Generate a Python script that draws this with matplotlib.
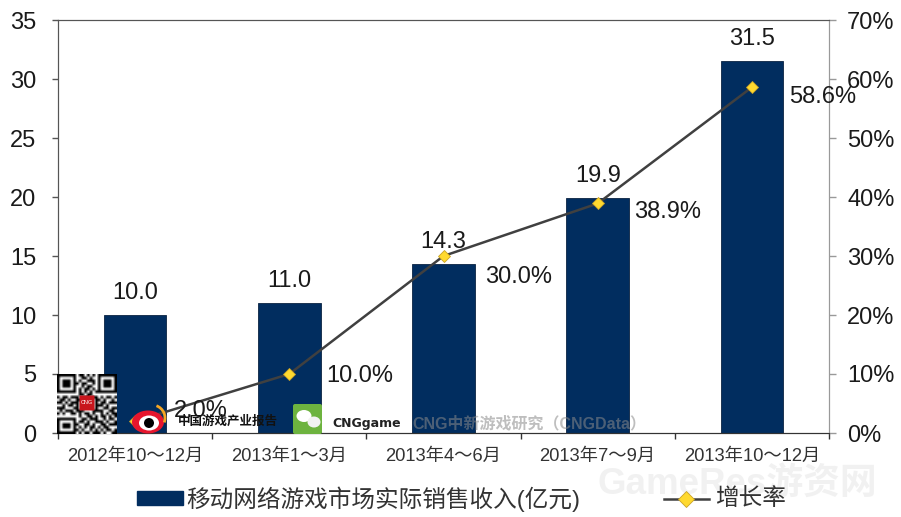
from __future__ import annotations

import matplotlib

matplotlib.use("Agg")

import matplotlib.pyplot as plt
import numpy as np
from matplotlib.patches import Arc, Circle, Ellipse, FancyBboxPatch, Rectangle

plt.rcParams["font.family"] = ["Liberation Sans", "Noto Sans CJK SC", "DejaVu Sans"]

categories = [
    "2012年10～12月",
    "2013年1～3月",
    "2013年4～6月",
    "2013年7～9月",
    "2013年10～12月",
]
revenue = [10.0, 11.0, 14.3, 19.9, 31.5]
growth = [2.0, 10.0, 30.0, 38.9, 58.6]
revenue_labels = ["10.0", "11.0", "14.3", "19.9", "31.5"]
growth_labels = ["2.0%", "10.0%", "30.0%", "38.9%", "58.6%"]
left_ticks = [0, 5, 10, 15, 20, 25, 30, 35]
right_ticks = [0, 10, 20, 30, 40, 50, 60, 70]

# Rough QR pattern, only there to stand in for the logo block.
qr_rows = [
    "1111111011010101111111",
    "1000001001101001000001",
    "1011101010011101011101",
    "1011101101100101011101",
    "1011101001011001011101",
    "1000001010110101000001",
    "1111111010101011111111",
    "0000000011011000000000",
    "1011011100110110101101",
    "0110100111000011010010",
    "1101011100000010110111",
    "0010110100000011101000",
    "1110001100000010011011",
    "0101110111000111100110",
    "1010011010110100101011",
    "0000000010011010110101",
    "1111111001101110010110",
    "1000001011010011101001",
    "1011101100110100110111",
    "1011101010101101011000",
    "1000001101001010101101",
    "1111111010110111010011",
]

WIDTH, HEIGHT = 901, 517
NAVY = "#012D5F"
LINE = "#404040"
GOLD = "#FFD92F"
TEXT = "#1A1A1A"


def px(x: float, y: float) -> tuple[float, float]:
    """Reference pixel position to figure fraction."""
    return x / WIDTH, 1 - y / HEIGHT


def main() -> None:
    fig = plt.figure(figsize=(WIDTH / 100, HEIGHT / 100), dpi=100)
    ax = fig.add_axes([58 / WIDTH, 1 - 433 / HEIGHT, 771 / WIDTH, 413 / HEIGHT])
    ax2 = ax.twinx()

    x = np.arange(len(categories))

    ax.bar(x, revenue, width=0.405, color=NAVY, edgecolor="#0A2342", linewidth=0.6)
    ax.set_xlim(-0.5, 4.5)
    ax.set_ylim(0, 35)
    ax.set_yticks(left_ticks)
    ax.tick_params(axis="y", labelsize=17, length=4.5, width=1, color="#555555",
                   labelcolor=TEXT, pad=11)
    ax.set_xticks(np.arange(-0.5, 5.0, 1.0))
    ax.set_xticklabels([])
    ax.tick_params(axis="x", length=4.5, width=1, color="#333333")
    for pos, label in zip(x, categories):
        ax.annotate(label, (pos, 0), xytext=(0, -17), textcoords="offset points",
                    ha="center", va="center", fontsize=13.2, color="#333333")

    ax2.plot(x, growth, color=LINE, linewidth=1.8, marker="D", markersize=6.5,
             markerfacecolor=GOLD, markeredgecolor="#C9A227", markeredgewidth=0.6)
    ax2.set_ylim(0, 70)
    ax2.set_yticks(right_ticks)
    ax2.set_yticklabels([f"{v}%" for v in right_ticks])
    ax2.tick_params(axis="y", labelsize=17, length=5, width=1, color="#999999",
                    labelcolor=TEXT, pad=8)

    for axis in (ax, ax2):
        axis.spines["left"].set_color("#555555")
        axis.spines["bottom"].set_color("#333333")
        axis.spines["top"].set_color("#555555")
        axis.spines["right"].set_color("#999999")

    for pos, value, label in zip(x, revenue, revenue_labels):
        ax.annotate(label, (pos, value), xytext=(0, 16), textcoords="offset points",
                    ha="center", va="center", fontsize=17, color=TEXT)

    # Growth labels sit to the right of each marker.
    offsets = [(47, 7), (51, -1.5), (54, -15), (50, -6), (51, -7)]
    for pos, value, label, offset in zip(x, growth, growth_labels, offsets):
        ax2.annotate(label, (pos, value), xytext=offset, textcoords="offset points",
                     ha="center", va="center", fontsize=17, color=TEXT)

    # Legend drawn by hand to match the wide spacing.
    fig.add_artist(Rectangle(px(137, 505), 46 / WIDTH, 14 / HEIGHT, color=NAVY,
                             transform=fig.transFigure))
    fig.text(*px(186, 499), "移动网络游戏市场实际销售收入(亿元)", fontsize=17,
             color="#333333", ha="left", va="center")
    line_x, line_y = px(664, 499)
    end_x, _ = px(709, 499)
    fig.add_artist(plt.Line2D([line_x, end_x], [line_y, line_y], color=LINE, linewidth=1.8,
                              transform=fig.transFigure))
    fig.add_artist(plt.Line2D([(line_x + end_x) / 2], [line_y], marker="D", markersize=8,
                              markerfacecolor=GOLD, markeredgecolor="#C9A227",
                              markeredgewidth=0.6, transform=fig.transFigure))
    fig.text(*px(715, 499), "增长率", fontsize=17, color="#333333", ha="left", va="center")

    # Overlay layer in pixel coordinates for the publisher's watermarks.
    overlay = fig.add_axes([0, 0, 1, 1], facecolor="none")
    overlay.set_xlim(0, WIDTH)
    overlay.set_ylim(HEIGHT, 0)
    overlay.axis("off")

    qr = np.array([[int(c) for c in row] for row in qr_rows])
    overlay.imshow(1 - qr, cmap="gray", extent=(57, 117, 434, 374), interpolation="bilinear",
                   vmin=0, vmax=1, zorder=3, aspect="auto")
    overlay.set_xlim(0, WIDTH)
    overlay.set_ylim(HEIGHT, 0)
    overlay.add_patch(FancyBboxPatch((80, 396), 14, 14, boxstyle="round,pad=0.5",
                                     fc="#C8161D", ec="none", zorder=4))
    overlay.text(87, 403, "CNG", fontsize=4, color="white", ha="center", va="center", zorder=5)

    # Weibo mark
    overlay.add_patch(Ellipse((148, 422), 32, 23, fc="#E6162D", ec="none", zorder=4))
    overlay.add_patch(Ellipse((149, 423), 20, 15, fc="white", ec="none", zorder=5))
    overlay.add_patch(Circle((149, 423), 5, fc="black", ec="none", zorder=6))
    overlay.add_patch(Arc((152, 418), 26, 26, theta1=-70, theta2=20,
                          ec="#F5A623", lw=2, zorder=4))

    overlay.text(228, 422, "中国游戏产业报告", fontsize=9, fontweight="bold", color="#111111",
                 ha="center", va="center", zorder=5)

    # WeChat mark
    overlay.add_patch(FancyBboxPatch((295, 406), 25, 26, boxstyle="round,pad=2",
                                     fc="#6DB33F", ec="none", zorder=4))
    overlay.add_patch(Ellipse((304, 416), 15, 12, fc="white", ec="none", zorder=5))
    overlay.add_patch(Ellipse((314, 422), 13, 11, fc="#F2F2F2", ec="none", zorder=5))

    overlay.text(367, 423, "CNGgame", fontsize=9, fontweight="bold", color="#222222",
                 ha="center", va="center", zorder=5, family=["DejaVu Sans"])
    overlay.text(529, 423, "CNG中新游戏研究（CNGData）", fontsize=11.5, fontweight="bold",
                 color="#8A8A8A", alpha=0.55, ha="center", va="center", zorder=5)
    overlay.text(737, 484, "GameRes游资网", fontsize=26.5, fontweight="bold", color="#EFEFEF",
                 alpha=0.85, ha="center", va="center", zorder=5)

    fig.savefig("out.png", dpi=100)
    plt.close(fig)


if __name__ == "__main__":
    main()
